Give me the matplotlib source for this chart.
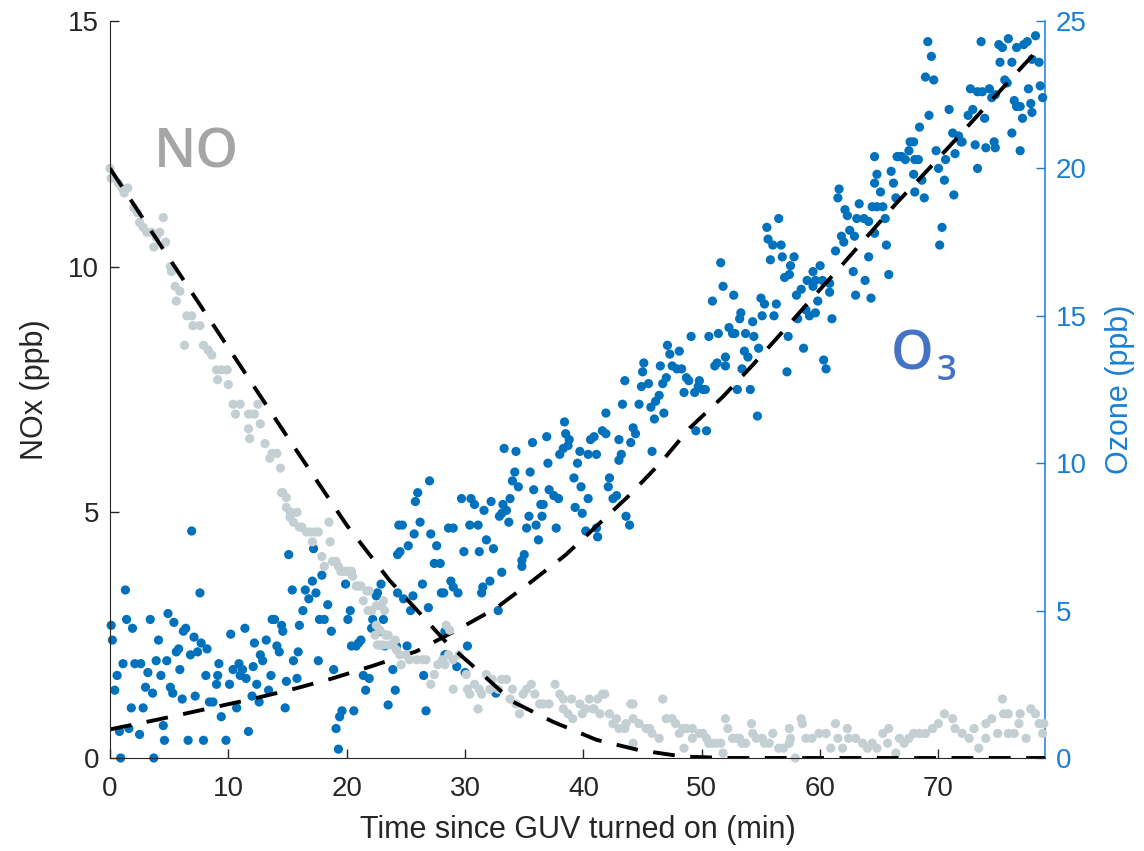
import numpy as np
import matplotlib
matplotlib.use("Agg")
import matplotlib.pyplot as plt

plt.rcParams['font.family'] = ['Liberation Sans', 'DejaVu Sans']

# NO readings (ppb) against time since the lamp came on (min)
no_time = [0.0, 0.1, 0.7, 1.0, 1.2, 1.5, 2.0, 2.3, 2.5, 2.8, 3.1, 4.5, 3.5, 3.9, 4.2, 3.7, 4.7, 5.1, 5.5, 5.9,
           5.2, 5.6, 6.5, 6.9, 7.0, 7.6, 6.3, 7.9, 8.3, 8.6, 9.0, 9.4, 9.9, 9.1, 10.0, 10.4, 11.0, 10.6, 11.7, 12.5,
           12.2, 12.7, 11.7, 11.8, 13.1, 13.7, 14.1, 13.5, 14.4, 14.6, 14.5, 14.9, 14.9, 15.3, 15.8, 15.5, 18.5, 16.2, 16.6, 16.9,
           17.3, 17.6, 17.1, 18.6, 17.9, 18.1, 18.8, 19.3, 19.7, 20.1, 20.4, 20.8, 21.2, 21.7, 21.9, 21.4, 21.8, 22.1, 23.1, 23.2,
           22.5, 22.8, 22.4, 22.6, 23.1, 23.5, 23.6, 23.9, 24.2, 24.5, 24.6, 25.0, 25.3, 25.9, 26.4, 26.7, 27.1, 27.4, 27.7, 28.1,
           28.6, 15.2, 16.0, 19.1, 19.5, 20.0, 20.5, 21.0, 22.5, 22.9, 22.8, 24.1, 23.3, 28.3,
           28.4, 28.7, 29.0, 29.5, 30.1, 30.4, 30.8, 31.1, 31.4, 32.1, 32.3, 33.1, 33.5, 34.0, 34.3, 34.9, 35.6, 35.9, 36.6, 37.1,
           37.6, 38.0, 38.3, 38.7, 39.0, 39.7, 39.9, 40.5, 40.9, 41.6, 42.2, 42.8, 43.6, 44.2, 44.7, 45.6, 46.7, 47.0, 47.8, 48.4,
           49.2, 29.0, 30.2, 31.2, 31.8, 32.8, 33.8, 34.6, 35.2, 36.3, 38.3, 39.1, 40.2, 40.8, 41.2, 41.8, 41.4, 42.5, 43.0, 43.5,
           44.0, 44.2, 45.3, 45.8, 46.4, 47.5, 48.1, 48.7, 49.2, 49.8, 50.4, 50.6, 51.2, 52.0, 52.2, 52.6, 53.2, 53.7, 54.2, 54.6,
           55.1, 55.7, 56.0, 56.5, 57.4, 57.5, 57.9, 48.5, 51.8, 44.2,
           50.1, 50.9, 51.6, 53.0, 53.4, 54.3, 55.3, 56.9, 57.4, 58.4, 58.5, 58.8, 59.3, 59.9, 60.5, 60.9, 61.3, 61.5, 61.9, 62.3,
           62.4, 63.0, 63.6, 64.0, 64.4, 64.8, 65.3, 65.8, 65.7, 66.4, 66.7, 67.1, 67.5, 67.9, 68.4, 68.9, 69.5, 70.0, 70.5, 71.2,
           71.4, 72.0, 72.6, 73.0, 73.4, 74.0, 74.0, 74.5, 75.0, 75.4, 75.5, 75.9, 75.9, 76.4, 76.9, 76.8, 77.4, 77.8, 78.2, 78.5,
           78.8, 78.9]
no_ppb = [12.0, 11.8, 11.7, 11.6, 11.5, 11.6, 11.2, 11.1, 10.9, 10.8, 10.7, 11.0, 10.7, 10.6, 10.7, 10.4, 10.5, 10.0, 9.6, 9.5,
          9.9, 9.3, 9.0, 9.0, 8.8, 8.8, 8.4, 8.4, 8.3, 8.2, 7.9, 7.9, 7.9, 7.7, 7.6, 7.2, 7.2, 7.0, 7.0, 7.2,
          7.0, 6.8, 6.7, 6.5, 6.4, 6.2, 6.2, 6.1, 5.9, 5.4, 5.4, 5.3, 5.1, 5.0, 5.0, 4.8, 4.8, 4.7, 4.6, 4.6,
          4.6, 4.6, 4.4, 4.4, 4.1, 3.9, 4.0, 3.9, 3.8, 3.8, 3.8, 3.5, 3.5, 3.4, 3.4, 3.2, 3.0, 3.0, 3.2, 3.0,
          2.7, 2.6, 2.5, 2.3, 2.3, 2.5, 2.3, 2.3, 2.2, 2.1, 1.9, 2.1, 2.0, 2.0, 2.0, 2.0, 1.5, 1.7, 1.9, 2.0,
          2.1, 4.9, 4.7, 4.0, 3.8, 3.8, 3.7, 3.5, 3.1, 3.1, 2.3, 2.4, 2.5, 1.9,
          2.7, 2.6, 2.0, 2.1, 1.7, 1.3, 1.5, 1.0, 1.3, 1.4, 1.6, 1.6, 1.6, 1.4, 1.1, 1.3, 1.5, 1.3, 1.1, 1.1,
          1.5, 1.3, 1.0, 0.9, 1.2, 1.1, 0.9, 1.2, 1.0, 1.3, 0.9, 0.8, 0.7, 1.1, 0.7, 0.6, 1.2, 0.8, 0.7, 0.6,
          0.6, 1.4, 1.4, 1.4, 1.7, 1.4, 1.2, 0.9, 1.4, 1.1, 1.2, 0.8, 1.0, 1.0, 1.2, 1.3, 0.9, 0.7, 0.6, 0.6,
          1.1, 0.8, 0.6, 0.5, 0.4, 0.8, 0.5, 0.6, 0.4, 0.5, 0.4, 0.3, 0.3, 0.8, 0.6, 0.4, 0.4, 0.3, 0.7, 0.4,
          0.4, 0.3, 0.5, 0.2, 0.6, 0.4, 0.0, 0.2, 0.1, 0.3,
          0.5, 0.3, 0.3, 0.4, 0.3, 0.5, 0.3, 0.2, 0.3, 0.8, 0.7, 0.4, 0.4, 0.5, 0.5, 0.2, 0.7, 0.4, 0.2, 0.6,
          0.4, 0.4, 0.3, 0.2, 0.3, 0.2, 0.5, 0.6, 0.3, 0.1, 0.4, 0.3, 0.4, 0.5, 0.5, 0.5, 0.6, 0.7, 0.9, 0.8,
          0.6, 0.5, 0.4, 0.6, 0.2, 0.4, 0.7, 0.8, 0.5, 1.2, 0.9, 0.9, 0.5, 0.5, 0.9, 0.7, 0.4, 1.0, 0.9, 0.7,
          0.5, 0.7]

# ozone readings (ppb)
o3_time = [0.1, 0.2, 0.4, 0.6, 0.8, 0.9, 1.1, 1.3, 1.4, 1.6, 1.8, 1.9, 2.1, 2.5, 2.6, 2.8, 3.0, 3.2, 3.4, 3.6,
           3.7, 3.9, 4.1, 4.3, 4.5, 4.6, 4.8, 4.9, 5.1, 5.3, 5.4, 5.6, 5.8, 5.9, 6.1, 6.2, 6.4, 6.6, 6.8, 6.9,
           7.1, 7.2, 7.4, 7.6, 7.7, 7.9, 8.1, 8.2, 8.4, 8.7, 9.0, 9.1, 9.2, 9.4, 9.8, 10.1, 10.2, 10.4, 10.7, 10.9,
           11.0, 11.2, 11.4, 11.5, 11.7, 12.0, 12.1, 12.2, 12.4, 12.6, 12.7, 12.9, 13.2, 13.4, 13.6, 13.7, 13.9, 14.1, 14.3, 14.5,
           14.6, 14.8, 14.9, 15.1, 15.3, 15.4, 15.5, 15.8, 15.9, 16.0, 16.3, 16.5, 16.8, 17.1, 17.2, 17.4, 17.6, 17.7, 17.9, 18.1,
           18.4, 18.7, 18.9, 19.1, 19.3, 19.4, 19.6, 19.9, 20.1, 20.3, 20.4, 20.6, 20.8, 21.0, 21.2, 21.4, 21.6, 21.9, 22.1, 22.2,
           22.5, 22.6, 22.8, 22.9, 23.1, 23.2, 23.5, 23.9, 24.1, 24.2, 24.3, 24.3, 24.4,
           27.0, 26.0, 25.8, 24.7, 26.2, 25.7, 27.1, 25.2, 24.5, 27.6, 27.4, 27.9, 28.6, 26.4, 24.8, 25.6, 28.2, 26.9, 25.4, 28.3,
           25.1, 28.3, 26.5, 26.7,
           43.3, 44.7, 45.7, 46.1, 46.8, 46.0, 41.9, 38.4, 38.5, 38.8, 38.7, 38.3, 38.0, 36.9, 35.7, 33.3, 34.3, 39.7, 40.4, 41.1,
           41.6, 41.9, 40.6, 40.9, 43.0, 44.2, 44.4, 44.0, 43.2, 43.0, 45.8, 37.0, 39.5, 35.5, 34.2, 34.0, 34.5, 39.2, 39.8, 42.2,
           42.1, 35.8, 37.1, 37.5, 37.9, 33.8, 29.7, 30.5, 30.8, 32.2, 33.2, 33.1, 32.9, 33.5, 36.4, 36.6, 40.4, 42.8, 42.5, 31.6,
           33.7, 35.4, 36.5, 31.1, 30.4, 29.0, 35.2, 36.0, 37.7, 39.3, 39.9, 40.2, 41.1, 41.2, 43.6, 43.9, 36.2, 31.8, 32.4, 31.2,
           29.9, 35.0, 34.8, 34.8, 33.1, 32.1, 31.5, 31.4, 28.8, 29.0, 29.4, 28.0, 32.8, 30.2, 29.3, 30.0, 28.4, 32.6,
           49.1, 47.1, 47.3, 48.1, 45.1, 45.0, 46.5, 47.5, 47.9, 48.3, 48.7, 48.9, 47.0, 46.7, 44.9, 45.5, 43.5, 48.5, 49.4, 46.4,
           61.6, 61.5, 62.1, 62.3, 63.3, 63.1, 56.5, 55.5, 55.6, 56.0, 56.7, 61.8, 62.5, 62.9, 62.0, 61.3, 55.8, 56.8, 57.8, 57.5,
           57.4, 57.0, 60.0, 59.4, 58.9, 59.6, 60.2, 60.8, 62.8, 63.0, 58.4, 58.0, 59.4, 59.8, 60.8, 51.6, 51.8, 52.7, 50.9, 55.0,
           55.3, 56.3, 53.3, 53.2, 54.3, 55.1, 56.1, 58.8, 59.1, 59.6, 58.1, 61.0, 50.6, 51.4, 52.3, 52.6, 52.8, 53.7, 54.4, 57.3,
           53.6, 53.9, 54.8, 52.0, 51.3, 51.1, 52.0, 58.6, 60.3, 60.5, 57.2, 53.4, 49.8, 49.7, 50.1, 50.3, 53.0, 54.1, 54.7, 49.5,
           50.4,
           64.6, 64.8, 66.0, 66.2, 66.7, 65.1, 66.4, 63.7, 64.1, 64.4, 64.8, 65.3, 65.5, 65.6, 64.1, 63.8, 64.3, 65.8,
           69.1, 69.4, 68.9, 69.6, 73.6, 75.1, 75.4, 75.9, 75.2, 76.2, 76.6, 77.2, 77.5, 78.2, 77.9, 78.5, 75.6, 75.8, 77.6, 78.6,
           78.8, 76.4, 76.6, 76.9, 77.8, 77.9, 77.1, 76.2, 76.9, 72.7, 73.3, 73.7, 74.3, 74.5, 74.8, 72.9, 72.5, 73.9, 73.1, 74.0,
           74.7, 74.8, 73.3, 71.4, 72.0, 71.2, 71.7, 71.9, 70.9, 69.8, 70.6, 70.0, 70.5, 71.3, 69.2, 68.4, 67.9, 67.6, 67.5, 68.0,
           68.3, 66.5, 66.9, 67.2, 67.9, 68.6, 68.0, 68.8, 64.6, 64.6, 70.3, 70.1]
o3_ppb = [4.5, 4.0, 2.3, 2.8, 0.9, 0.0, 3.2, 5.7, 4.7, 1.0, 1.7, 4.4, 3.2, 0.8, 3.2, 1.7, 2.4, 2.9, 4.7, 2.2,
          0.0, 3.3, 4.0, 2.8, 1.1, 0.6, 3.3, 4.9, 2.4, 2.2, 4.6, 3.6, 3.7, 3.0, 2.0, 4.3, 4.4, 0.6, 3.5, 7.7,
          4.1, 2.1, 3.6, 5.6, 3.9, 0.6, 2.8, 3.7, 1.9, 1.9, 2.5, 2.8, 3.2, 1.4, 0.6, 2.5, 4.2, 3.0, 1.7, 3.2,
          2.8, 3.0, 4.4, 2.7, 0.9, 2.1, 3.1, 3.9, 2.5, 1.9, 3.5, 3.3, 4.0, 2.3, 2.8, 4.7, 4.7, 3.8, 3.6, 4.5,
          4.3, 1.7, 2.6, 6.9, 8.3, 5.7, 3.3, 2.7, 3.6, 4.5, 5.0, 5.7, 5.4, 6.0, 7.1, 5.6, 3.3, 4.7, 6.2, 4.7,
          5.2, 4.3, 3.0, 1.0, 0.3, 1.4, 1.6, 5.9, 4.7, 5.0, 3.8, 1.6, 3.8, 3.9, 4.0, 2.8, 2.3, 2.7, 4.4, 4.7,
          5.5, 5.6, 4.3, 5.9, 4.7, 3.8, 1.8, 3.0, 2.3, 3.8, 5.6, 6.9, 7.9,
          9.4, 9.0, 8.7, 7.9, 8.0, 7.6, 7.6, 7.2, 7.0, 7.2, 6.6, 6.6, 7.8, 5.9, 5.4, 5.5, 5.6, 5.1, 5.0, 4.3,
          3.8, 3.5, 2.8, 1.6,
          12.0, 12.0, 11.9, 12.1, 11.7, 11.5, 11.7, 11.4, 11.0, 10.8, 10.6, 10.5, 10.3, 10.9, 10.7, 10.5, 10.4, 10.4, 10.3, 10.3,
          11.1, 11.0, 10.8, 10.9, 10.8, 11.2, 11.0, 10.7, 10.3, 10.1, 10.4, 10.0, 10.0, 9.7, 9.7, 9.4, 9.2, 9.5, 9.2, 9.5,
          9.2, 9.1, 9.1, 8.9, 8.8, 8.8, 8.8, 8.8, 8.6, 8.7, 8.6, 8.3, 8.2, 8.4, 8.6, 8.6, 8.8, 8.9, 8.8, 8.4,
          8.0, 8.2, 8.2, 7.9, 7.9, 7.8, 7.8, 7.9, 7.8, 8.5, 8.3, 7.7, 7.8, 7.5, 8.2, 7.9, 7.4, 7.4, 7.1, 7.0,
          7.0, 6.9, 6.7, 6.5, 6.3, 6.0, 5.8, 5.6, 6.0, 5.8, 5.6, 5.6, 5.0, 3.8, 3.1, 2.9, 3.5, 2.2,
          14.3, 14.0, 13.7, 13.8, 13.4, 13.1, 13.3, 13.3, 13.2, 13.2, 12.9, 12.8, 12.9, 12.7, 12.6, 12.7, 12.8, 12.4, 12.4, 12.3,
          19.3, 19.0, 18.6, 18.4, 18.8, 18.3, 18.3, 18.0, 17.6, 17.4, 17.4, 17.7, 17.9, 17.7, 17.5, 17.2, 16.9, 17.0, 17.0, 16.7,
          16.4, 16.3, 16.7, 16.5, 16.2, 16.2, 16.2, 16.1, 16.5, 15.7, 15.9, 15.7, 16.0, 15.5, 15.8, 16.8, 16.0, 15.7, 15.5, 15.6,
          15.4, 15.4, 15.1, 14.9, 14.8, 15.0, 15.0, 15.2, 15.0, 15.1, 14.9, 14.9, 14.3, 14.4, 14.6, 14.4, 14.4, 14.4, 14.3, 14.3,
          13.8, 13.6, 13.9, 13.6, 13.4, 13.3, 13.3, 13.9, 13.5, 13.2, 13.1, 13.2, 12.8, 12.6, 12.5, 12.5, 12.5, 12.5, 11.6, 11.1,
          11.1,
          20.4, 19.8, 19.9, 19.5, 20.4, 19.2, 19.0, 18.3, 18.2, 18.7, 18.7, 18.7, 18.3, 17.4, 17.0, 16.2, 15.6, 16.4,
          24.3, 23.8, 23.1, 23.0, 24.3, 24.2, 24.1, 24.4, 23.6, 23.6, 24.1, 24.2, 24.3, 24.5, 23.7, 23.6, 23.0, 22.9, 22.7, 22.8,
          22.4, 22.3, 22.1, 22.1, 22.2, 21.9, 21.7, 21.2, 20.6, 22.7, 22.6, 22.6, 22.7, 22.4, 22.5, 22.0, 21.8, 21.7, 20.8, 20.7,
          20.9, 20.7, 20.0, 20.5, 20.9, 21.2, 21.1, 20.9, 22.0, 20.6, 20.3, 20.0, 19.6, 19.1, 21.8, 21.4, 20.9, 20.9, 20.6, 20.3,
          20.3, 20.4, 20.4, 20.3, 19.8, 19.6, 19.2, 19.0, 19.5, 17.8, 18.0, 17.4]

# fitted curves
no_fit_time = [0, 5, 10, 15, 20, 23.6, 26.2, 28.5, 31.2, 34.0, 37.4, 41.1, 44.7, 48.4, 52, 79]
no_fit_ppb = [12.0, 10.17, 8.35, 6.53, 4.74, 3.62, 2.94, 2.33, 1.76, 1.15, 0.74, 0.37, 0.16, 0.03, 0.0, 0.0]
o3_fit_time = [0, 4, 8, 12, 15.6, 18.8, 22, 25.9, 29.3, 32.6, 35.6, 38.5, 41.2, 43.9, 46.6, 49.0,
               51.8, 54.3, 56.7, 59.2, 61.6, 64.1, 66.4, 69.1, 71.5, 74.0, 76.5, 78.8]
o3_fit_ppb = [0.97, 1.3, 1.65, 2.0, 2.35, 2.7, 3.1, 3.62, 4.34, 5.08, 5.98, 6.89, 7.9, 8.92, 10.05, 11.2,
              12.26, 13.33, 14.4, 15.54, 16.61, 17.75, 18.8, 19.95, 21.0, 22.1, 23.2, 24.2]

gray_pts = '#c3cfd2'
blue_pts = '#0072bd'
axis_blue = '#1a7fd3'
dark = '#262626'

fig = plt.figure(figsize=(11.44, 8.51), dpi=100)
ax = fig.add_axes([110/1144, 1 - 758/851, 935/1144, 737/851])
ax2 = ax.twinx()

dash = (0, (5.6, 4.0))
ax.scatter(no_time, no_ppb, s=44, color=gray_pts, edgecolors='none', zorder=2, clip_on=False)
ax.plot(no_fit_time, no_fit_ppb, color='black', lw=2.8, ls=dash, dash_capstyle='butt', zorder=4)
ax2.scatter(o3_time, o3_ppb, s=44, color=blue_pts, edgecolors='none', zorder=3, clip_on=False)
ax2.plot(o3_fit_time, o3_fit_ppb, color='black', lw=2.8, ls=dash, dash_capstyle='butt', zorder=4)

ax.set_xlim(0, 79)
ax.set_ylim(0, 15)
ax2.set_ylim(0, 25)
ax.set_xticks(np.arange(0, 80, 10))
ax.set_yticks([0, 5, 10, 15])
ax2.set_yticks([0, 5, 10, 15, 20, 25])

for a in (ax, ax2):
    a.spines['top'].set_visible(False)
ax.spines['right'].set_visible(False)
ax2.spines['left'].set_visible(False)
ax2.spines['bottom'].set_visible(False)
ax.spines['left'].set_color(dark)
ax.spines['bottom'].set_color(dark)
ax2.spines['right'].set_color(axis_blue)
ax2.spines['right'].set_linewidth(1.1)

ax.tick_params(axis='x', direction='in', length=6.5, width=1, colors=dark, labelsize=20, pad=13)
ax.tick_params(axis='y', direction='in', length=6.5, width=1, colors=dark, labelsize=20, pad=8)
ax2.tick_params(axis='y', direction='in', length=6.5, width=1, colors=axis_blue, labelsize=20, pad=8)

ax.set_xlabel('Time since GUV turned on (min)', fontsize=22, color=dark, labelpad=9)
ax.set_ylabel('NOx (ppb)', fontsize=22, color=dark, labelpad=13)
ax2.set_ylabel('Ozone (ppb)', fontsize=22, color=axis_blue, labelpad=13)

ax.set_zorder(ax2.get_zorder() + 1)
ax.patch.set_visible(False)

fig.text(196/1144, 1 - 153/851, 'NO', fontsize=39, color='#a5a5a5', fontweight='semibold',
         family=['Open Sans', 'DejaVu Sans'], ha='center', va='center')
fig.text(912/1144, 1 - 355/851, 'O', fontsize=39, color='#4472c4', fontweight='semibold',
         family=['Open Sans', 'DejaVu Sans'], ha='center', va='center')
fig.text(947/1144, 1 - 371/851, '3', fontsize=25, color='#4472c4', fontweight='semibold',
         family=['Open Sans', 'DejaVu Sans'], ha='center', va='center')

fig.savefig('out.png', dpi=100)
